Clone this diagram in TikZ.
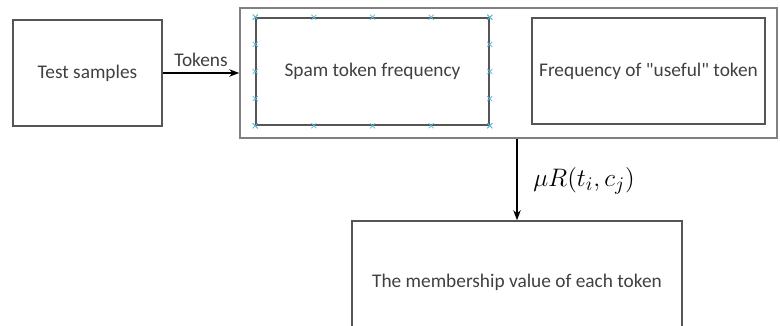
\documentclass[tikz,border=0pt]{standalone}
\usepackage{fontspec}
\setmainfont{Carlito}
\usetikzlibrary{arrows.meta, positioning, calc}
\definecolor{boxgray}{HTML}{555555}
\definecolor{txtgray}{HTML}{404040}
\definecolor{handle}{HTML}{5BB8DA}
\tikzstyle{box} = [rectangle, draw=boxgray, line width=.9pt, align=center, text=txtgray, font=\fontsize{11}{13}\selectfont]
\tikzstyle{arrow} = [line width=.6pt, -{Stealth[length=2mm]}]
\tikzstyle{handlemark} = [handle, line width=.4pt]

\begin{document}
\begin{tikzpicture}
\clip (0,0) rectangle (15.6,6.5);
\node[box, minimum width=2.98cm, minimum height=2.12cm] (test) at (1.75,5.04) {Test samples};
\node[box, draw=gray, minimum width=10.74cm, minimum height=2.6cm] (outer) at (10.17,5.04) {};
\node[box, minimum width=4.66cm, minimum height=2.14cm] (spam) at (7.45,5.07) {Spam token frequency};
\node[box, minimum width=4.66cm, minimum height=2.12cm] (useful) at (12.97,5.08) {Frequency of \textquotedbl useful\textquotedbl{} token};
\node[box, minimum width=6.6cm, minimum height=2.44cm] (member) at (10.34,0.86) {The membership value of each token};

\draw[arrow] (test.east) -- node[above, text=txtgray, font=\fontsize{11}{13}\selectfont] (tokens) {Tokens} (outer.west);
\draw[arrow] (member.north |- outer.south) -- (member.north);
\node[font=\fontsize{15}{18}\selectfont] (mu) at (11.68,2.88) {$\mu R(t_i,c_j)$};

% selection handles on the spam box
\foreach \a/\b in {north west/north east, south west/south east, north west/south west, north east/south east}{
  \foreach \f in {0,0.25,0.5,0.75,1}{
    \coordinate (h) at ($(spam.\a)!\f!(spam.\b)$);
    \draw[handlemark] ($(h)+(-0.05,-0.05)$) -- ($(h)+(0.05,0.05)$) ($(h)+(-0.05,0.05)$) -- ($(h)+(0.05,-0.05)$);
  }
}
\end{tikzpicture}
\end{document}
